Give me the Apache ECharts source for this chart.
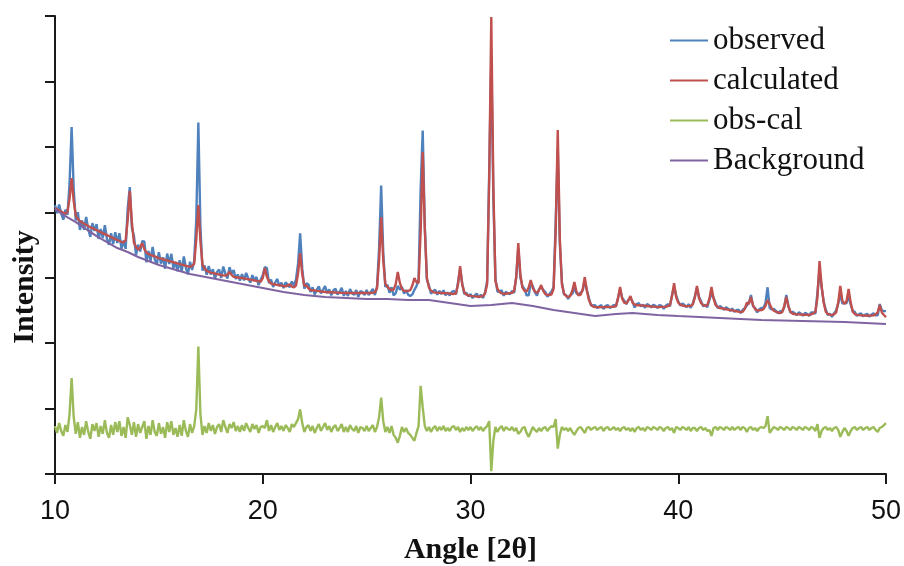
<!DOCTYPE html>
<html>
<head>
<meta charset="utf-8">
<script src="https://cdn.jsdelivr.net/npm/echarts@6/dist/echarts.min.js"></script>
<style>
  html, body { margin: 0; padding: 0; background: #ffffff; }
  #chart { width: 904px; height: 566px; }
</style>
</head>
<body>
<div id="chart"></div>
<script>
// Powder diffraction refinement: measured pattern, fitted pattern, residual and background.
// Scan grid: 10.0° to 50.0° in 0.1° steps (401 points).
const angleStart = 10;
const angleStep = 0.1;

// Measured intensity (counts), one row per degree (x.0 … x.9), last value is 50.0°
const observedIntensity = [
  4109, 3986, 4118, 3980, 3887, 4040, 3961, 4433, 5303, 4350,
  3876, 4001, 3731, 3873, 3734, 3927, 3745, 3624, 3834, 3714,
  3818, 3593, 3743, 3607, 3802, 3592, 3502, 3681, 3516, 3696,
  3531, 3681, 3443, 3570, 3440, 4059, 4384, 3759, 3639, 3348,
  3505, 3401, 3560, 3556, 3234, 3407, 3259, 3472, 3280, 3207,
  3390, 3216, 3312, 3138, 3369, 3210, 3365, 3146, 3242, 3098,
  3269, 3095, 3326, 3151, 3052, 3243, 3118, 3259, 3885, 5370,
  3782, 3109, 3187, 3045, 3180, 3049, 3131, 2989, 3086, 3124,
  2996, 3171, 3062, 2987, 3162, 3058, 3118, 2979, 3049, 2955,
  3055, 2959, 3073, 2992, 2926, 3040, 2958, 3012, 2886, 2970,
  3039, 3163, 3147, 2916, 2970, 2859, 2927, 2981, 2870, 2924,
  2843, 2928, 2893, 2855, 2943, 2882, 2970, 3215, 3677, 3146,
  2832, 2912, 2898, 2783, 2854, 2744, 2814, 2870, 2760, 2816,
  2871, 2765, 2823, 2732, 2805, 2834, 2742, 2786, 2844, 2723,
  2796, 2721, 2826, 2766, 2736, 2811, 2706, 2796, 2781, 2736,
  2811, 2736, 2781, 2828, 2735, 2866, 3446, 4407, 3386, 2861,
  2890, 2770, 2855, 2730, 2765, 2877, 2815, 2860, 2755, 2810,
  2740, 2720, 2745, 2815, 2870, 2965, 4360, 5250, 3795, 2970,
  2880, 2755, 2795, 2817, 2740, 2798, 2751, 2809, 2732, 2775,
  2728, 2785, 2797, 2745, 2930, 3133, 2915, 2750, 2770, 2715,
  2752, 2688, 2730, 2757, 2695, 2742, 2690, 2775, 2945, 4620,
  6338, 4220, 2980, 2785, 2795, 2805, 2725, 2785, 2760, 2750,
  2800, 2770, 3015, 3455, 3005, 2865, 2830, 2730, 2730, 2919,
  2870, 2775, 2725, 2825, 2858, 2815, 2780, 2708, 2750, 2790,
  2860, 3850, 4956, 3510, 2930, 2745, 2735, 2675, 2735, 2755,
  2844, 2760, 2745, 2770, 2805, 2950, 2815, 2690, 2575, 2575,
  2582, 2535, 2564, 2580, 2521, 2567, 2583, 2539, 2555, 2587,
  2555, 2695, 2827, 2695, 2650, 2595, 2665, 2690, 2635, 2545,
  2598, 2610, 2562, 2589, 2541, 2598, 2579, 2546, 2588, 2570,
  2537, 2583, 2569, 2525, 2571, 2595, 2565, 2735, 2858, 2730,
  2635, 2575, 2605, 2583, 2550, 2596, 2540, 2605, 2715, 2843,
  2705, 2640, 2565, 2585, 2550, 2665, 2752, 2695, 2610, 2535,
  2567, 2546, 2510, 2548, 2527, 2491, 2530, 2479, 2503, 2511,
  2460, 2508, 2535, 2575, 2615, 2735, 2565, 2535, 2470, 2518,
  2536, 2535, 2615, 2854, 2540, 2515, 2525, 2495, 2455, 2490,
  2485, 2545, 2735, 2575, 2465, 2480, 2460, 2427, 2470, 2453,
  2420, 2463, 2447, 2416, 2470, 2470, 2450, 2775, 3120, 2850,
  2635, 2510, 2430, 2450, 2402, 2455, 2500, 2605, 2753, 2605,
  2615, 2610, 2722, 2590, 2495, 2475, 2417, 2443, 2455, 2408,
  2435, 2448, 2405, 2437, 2455, 2425, 2425, 2598, 2500, 2490,
  2489
];

// Fitted profile (counts), same grid
const calculatedIntensity = [
  4064, 4046, 4028, 4010, 3992, 3980, 4006, 4208, 4523, 4170,
  3951, 3896, 3866, 3843, 3824, 3807, 3790, 3774, 3759, 3744,
  3728, 3713, 3698, 3682, 3667, 3652, 3637, 3621, 3606, 3591,
  3576, 3561, 3548, 3540, 3575, 3879, 4324, 3849, 3534, 3468,
  3430, 3461, 3530, 3436, 3384, 3362, 3349, 3337, 3325, 3312,
  3300, 3291, 3282, 3273, 3264, 3255, 3245, 3236, 3227, 3218,
  3209, 3200, 3191, 3181, 3172, 3168, 3178, 3214, 3585, 4110,
  3557, 3199, 3142, 3105, 3090, 3079, 3071, 3064, 3056, 3049,
  3041, 3036, 3032, 3047, 3087, 3043, 3013, 3009, 3004, 3000,
  2995, 2989, 2983, 2977, 2971, 2965, 2958, 2952, 2946, 2940,
  2994, 3148, 3012, 2946, 2910, 2904, 2897, 2891, 2885, 2879,
  2873, 2868, 2878, 2900, 2868, 2852, 2880, 3065, 3377, 3056,
  2877, 2882, 2838, 2813, 2809, 2804, 2799, 2795, 2790, 2786,
  2781, 2780, 2778, 2777, 2775, 2774, 2772, 2771, 2769, 2768,
  2766, 2766, 2766, 2766, 2766, 2766, 2766, 2766, 2766, 2766,
  2766, 2766, 2766, 2768, 2780, 2836, 3266, 3927, 3266, 2906,
  2860, 2830, 2810, 2820, 2900, 3087, 2920, 2830, 2800, 2795,
  2800, 2810, 2880, 2995, 2930, 2920, 3700, 4920, 3750, 3000,
  2850, 2800, 2780, 2772, 2770, 2768, 2766, 2764, 2762, 2760,
  2758, 2755, 2752, 2760, 2900, 3178, 2900, 2780, 2740, 2730,
  2722, 2718, 2715, 2712, 2710, 2712, 2720, 2760, 2900, 4500,
  6983, 4400, 2950, 2830, 2780, 2760, 2755, 2755, 2760, 2765,
  2770, 2800, 3000, 3530, 3050, 2850, 2800, 2790, 2850, 2964,
  2840, 2790, 2770, 2810, 2888, 2800, 2750, 2738, 2735, 2745,
  2830, 3700, 5256, 3600, 2900, 2760, 2720, 2705, 2720, 2800,
  2934, 2790, 2730, 2740, 2820, 3010, 2800, 2660, 2590, 2560,
  2552, 2550, 2549, 2550, 2551, 2552, 2553, 2554, 2555, 2557,
  2570, 2680, 2857, 2680, 2620, 2610, 2650, 2720, 2620, 2590,
  2583, 2580, 2577, 2574, 2571, 2568, 2564, 2561, 2558, 2555,
  2552, 2553, 2554, 2555, 2556, 2565, 2580, 2720, 2918, 2700,
  2620, 2590, 2575, 2568, 2565, 2566, 2570, 2590, 2700, 2873,
  2690, 2610, 2580, 2570, 2580, 2680, 2857, 2680, 2580, 2550,
  2537, 2531, 2525, 2518, 2512, 2506, 2500, 2494, 2488, 2481,
  2475, 2478, 2520, 2620, 2600, 2705, 2580, 2520, 2500, 2503,
  2506, 2520, 2570, 2659, 2600, 2530, 2495, 2480, 2470, 2460,
  2470, 2560, 2705, 2560, 2480, 2450, 2445, 2442, 2440, 2438,
  2435, 2433, 2432, 2431, 2440, 2455, 2480, 2700, 3255, 2880,
  2620, 2480, 2445, 2435, 2432, 2440, 2470, 2620, 2873, 2650,
  2600, 2640, 2827, 2620, 2480, 2445, 2432, 2428, 2425, 2423,
  2420, 2418, 2420, 2422, 2425, 2440, 2470, 2583, 2470, 2430,
  2399
];

// Residual (obs - cal), plotted with an offset below the pattern
const differenceIntensity = [
  733, 628, 778, 658, 583, 748, 643, 913, 1468, 868,
  613, 793, 553, 718, 598, 808, 643, 538, 763, 658,
  778, 568, 733, 613, 823, 628, 553, 748, 598, 793,
  643, 808, 583, 718, 553, 868, 748, 598, 793, 568,
  763, 628, 718, 808, 538, 733, 598, 823, 643, 583,
  778, 613, 718, 553, 793, 643, 808, 598, 703, 568,
  748, 583, 823, 658, 568, 763, 628, 733, 988, 1948,
  913, 598, 733, 628, 778, 658, 748, 613, 718, 763,
  643, 823, 718, 628, 763, 703, 793, 658, 733, 643,
  748, 658, 778, 703, 643, 763, 688, 748, 628, 718,
  733, 703, 823, 658, 748, 643, 718, 778, 673, 733,
  658, 748, 703, 643, 763, 718, 778, 838, 988, 778,
  643, 718, 748, 658, 733, 628, 703, 763, 658, 718,
  778, 673, 733, 643, 718, 748, 658, 703, 763, 643,
  718, 643, 748, 688, 658, 733, 628, 718, 703, 658,
  733, 658, 703, 748, 643, 718, 868, 1168, 808, 643,
  718, 628, 733, 598, 553, 478, 583, 718, 643, 703,
  628, 598, 553, 508, 628, 733, 1348, 1018, 733, 658,
  718, 643, 703, 733, 658, 718, 673, 733, 658, 703,
  658, 718, 733, 673, 718, 643, 703, 658, 718, 673,
  718, 658, 703, 733, 673, 718, 658, 703, 733, 808,
  43, 508, 718, 643, 703, 733, 658, 718, 688, 673,
  718, 658, 703, 613, 643, 703, 718, 628, 568, 643,
  718, 673, 643, 703, 658, 703, 718, 658, 703, 733,
  718, 838, 388, 598, 718, 673, 703, 658, 703, 643,
  598, 658, 703, 718, 673, 628, 703, 718, 673, 703,
  718, 673, 703, 718, 658, 703, 718, 673, 688, 718,
  673, 703, 658, 703, 718, 673, 703, 658, 703, 643,
  703, 718, 673, 703, 658, 718, 703, 673, 718, 703,
  673, 718, 703, 658, 703, 718, 673, 703, 628, 718,
  703, 673, 718, 703, 673, 718, 658, 703, 703, 658,
  703, 718, 673, 703, 658, 673, 583, 703, 718, 673,
  718, 703, 673, 718, 703, 673, 718, 673, 703, 718,
  673, 718, 703, 643, 703, 718, 673, 703, 658, 703,
  718, 703, 733, 883, 628, 673, 718, 703, 673, 718,
  703, 673, 718, 703, 673, 718, 703, 673, 718, 703,
  673, 718, 703, 673, 718, 703, 658, 763, 553, 658,
  703, 718, 673, 703, 658, 703, 718, 673, 568, 643,
  703, 658, 583, 658, 703, 718, 673, 703, 718, 673,
  703, 718, 673, 703, 718, 673, 643, 703, 718, 748,
  778
];

// Refined background: knots of the polyline
const backgroundAngles = [
  10, 10.5, 11, 11.5, 12, 12.5, 13, 13.5, 14, 14.5, 15, 15.5, 16, 16.5, 17,
  18, 19, 20, 21, 22, 23, 24, 25, 26, 27, 28, 29, 30, 31, 32, 33, 34, 35, 36,
  37, 37.8, 39, 40, 42, 44, 46, 48, 50
];
const backgroundIntensity = [
  4049, 3942, 3850, 3743, 3637, 3545, 3453, 3392, 3316, 3255, 3194, 3148, 3102, 3056, 3026,
  2964, 2903, 2842, 2781, 2735, 2705, 2690, 2674, 2674, 2659, 2659, 2613, 2567, 2583, 2613, 2567, 2506, 2460, 2414,
  2445, 2460, 2430, 2414, 2384, 2353, 2338, 2322, 2292
];

const xTicks = { min: 10, max: 50, interval: 10 };
const yTicks = { min: 0, max: 7000, interval: 1000 };

const seriesNames = ['observed', 'calculated', 'obs-cal', 'Background'];
const seriesColors = ['#4F81BD', '#C0504D', '#9BBB59', '#8064A2'];
const seriesWidths = [2.4, 2.4, 2.4, 2.1];

const angles = observedIntensity.map((_, i) => +(angleStart + i * angleStep).toFixed(1));
const pairUp = (xs, ys) => ys.map((y, i) => [xs[i], y]);

const chart = echarts.init(document.getElementById('chart'), null, { renderer: 'canvas' });

const lineSeries = (k, data) => ({
  name: seriesNames[k],
  type: 'line',
  data,
  symbol: 'none',
  showSymbol: false,
  sampling: false,
  animation: false,
  lineStyle: { color: seriesColors[k], width: seriesWidths[k] },
  itemStyle: { color: seriesColors[k] },
  emphasis: { disabled: true }
});

chart.setOption({
  backgroundColor: '#ffffff',
  animation: false,
  grid: { left: 55, right: 18, top: 16, bottom: 92, containLabel: false, outerBoundsMode: 'none' },
  legend: {
    orient: 'vertical',
    left: 665,
    top: 20,
    icon: 'rect',
    itemWidth: 38,
    itemHeight: 2,
    itemGap: 9,
    data: seriesNames,
    textStyle: {
      fontFamily: '"Liberation Serif", "Times New Roman", serif',
      fontSize: 31,
      lineHeight: 31,
      color: '#111'
    }
  },
  xAxis: {
    type: 'value',
    min: xTicks.min,
    max: xTicks.max,
    interval: xTicks.interval,
    name: 'Angle [2θ]',
    nameLocation: 'middle',
    nameGap: 61,
    nameTextStyle: {
      fontFamily: '"Liberation Serif", "Times New Roman", serif',
      fontWeight: 'bold',
      fontSize: 30,
      color: '#111'
    },
    axisLine: { lineStyle: { color: '#1a1a1a', width: 2 } },
    axisTick: { inside: false, length: 10, lineStyle: { color: '#1a1a1a', width: 2 } },
    axisLabel: {
      margin: 24,
      fontFamily: '"Liberation Sans", Arial, sans-serif',
      fontSize: 27,
      color: '#111'
    },
    splitLine: { show: false }
  },
  yAxis: {
    type: 'value',
    min: yTicks.min,
    max: yTicks.max,
    interval: yTicks.interval,
    axisLine: { show: true, lineStyle: { color: '#1a1a1a', width: 2 } },
    axisTick: { show: true, inside: false, length: 10, lineStyle: { color: '#1a1a1a', width: 2 } },
    axisLabel: { show: false },
    splitLine: { show: false }
  },
  graphic: [{
    type: 'text',
    x: 25,
    y: 287,
    rotation: Math.PI / 2,
    style: {
      text: 'Intensity',
      font: 'bold 30px "Liberation Serif", "Times New Roman", serif',
      fill: '#111',
      textAlign: 'center',
      textVerticalAlign: 'middle'
    }
  }],
  series: [
    lineSeries(0, pairUp(angles, observedIntensity)),
    lineSeries(1, pairUp(angles, calculatedIntensity)),
    lineSeries(2, pairUp(angles, differenceIntensity)),
    lineSeries(3, pairUp(backgroundAngles, backgroundIntensity))
  ]
});
</script>
</body>
</html>
